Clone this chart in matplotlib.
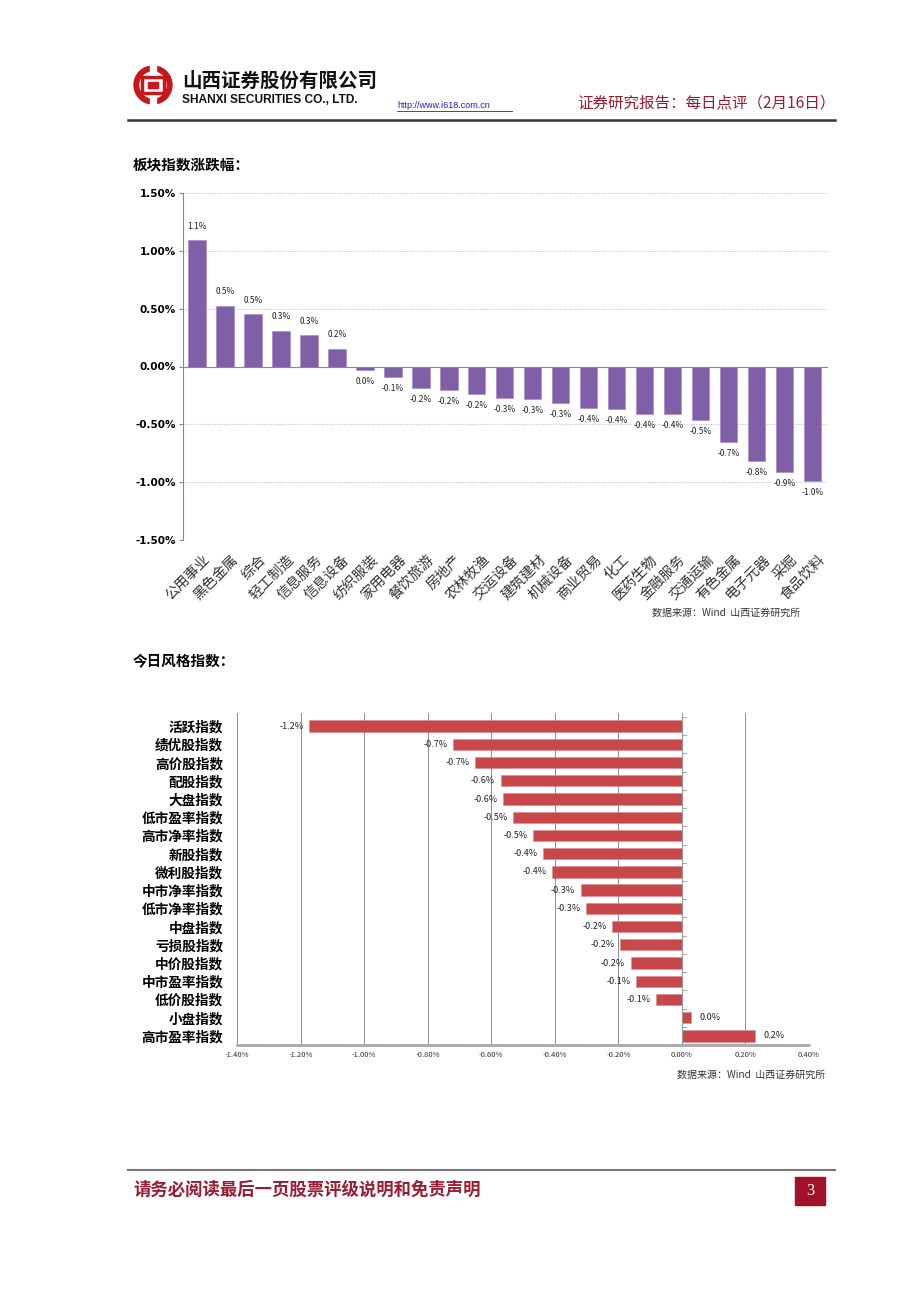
import matplotlib
matplotlib.use("Agg")
import matplotlib.pyplot as plt
import matplotlib.patches as mpatches
import numpy as np

plt.rcParams['font.family'] = ['Noto Sans CJK SC', 'DejaVu Sans']

# ---------------- data ----------------
sectors = ['公用事业', '黑色金属', '综合', '轻工制造', '信息服务', '信息设备', '纺织服装',
           '家用电器', '餐饮旅游', '房地产', '农林牧渔', '交运设备', '建筑建材', '机械设备',
           '商业贸易', '化工', '医药生物', '金融服务', '交通运输', '有色金属', '电子元器',
           '采掘', '食品饮料']
sector_chg = [1.09, 0.525, 0.45, 0.31, 0.27, 0.155, -0.03, -0.09, -0.19, -0.20, -0.235,
              -0.27, -0.28, -0.315, -0.355, -0.365, -0.41, -0.41, -0.46, -0.655, -0.82,
              -0.91, -0.99]
sector_yticks = [-1.5, -1.0, -0.5, 0.0, 0.5, 1.0, 1.5]

styles = ['活跃指数', '绩优股指数', '高价股指数', '配股指数', '大盘指数', '低市盈率指数',
          '高市净率指数', '新股指数', '微利股指数', '中市净率指数', '低市净率指数', '中盘指数',
          '亏损股指数', '中价股指数', '中市盈率指数', '低价股指数', '小盘指数', '高市盈率指数']
style_chg = [-1.173, -0.72, -0.65, -0.57, -0.563, -0.531, -0.468, -0.436, -0.409, -0.318,
             -0.302, -0.219, -0.194, -0.161, -0.144, -0.082, 0.030, 0.230]
style_xticks = [-1.4, -1.2, -1.0, -0.8, -0.6, -0.4, -0.2, 0.0, 0.2, 0.4]


def pct1(v):
    s = '%.1f%%' % v
    return '0.0%' if s == '-0.0%' else s


W, H = 920, 1302
fig = plt.figure(figsize=(W / 100, H / 100), dpi=100)

# ---------------- overlay for header/footer ----------------
ov = fig.add_axes([0, 0, 1, 1], zorder=0)
ov.set_xlim(0, W)
ov.set_ylim(H, 0)
ov.axis('off')

RED = '#9B1B30'
# logo
ov.add_patch(mpatches.Circle((153, 85), 19, color='#C8161D'))
ov.add_patch(mpatches.Circle((153, 85), 13, color='white'))
ov.add_patch(mpatches.Rectangle((142, 77), 22, 16, fill=False, ec='#C8161D', lw=2.5))
ov.add_patch(mpatches.Rectangle((148, 82), 10, 6, color='#C8161D'))
ov.add_patch(mpatches.Rectangle((150, 64), 6, 10, color='white'))
ov.add_patch(mpatches.Rectangle((150, 96), 6, 10, color='white'))

ov.text(182, 81, '山西证券股份有限公司', fontsize=14, fontweight='bold', va='center', ha='left',
        color='#111111')
ov.text(182, 100, 'SHANXI SECURITIES CO., LTD.', fontsize=8.6, fontweight='bold', va='center',
        ha='left', family=['Liberation Sans', 'DejaVu Sans'], color='#111111')
ov.text(397, 106, 'http://www.i618.com.cn', fontsize=6.5, va='center', ha='left',
        color='#1F1FCC', family=['Liberation Sans', 'DejaVu Sans'])
ov.plot([397, 512], [111, 111], color='#1F1FCC', lw=0.6)
ov.text(835, 103, '证券研究报告：每日点评（2月16日）', fontsize=11.2, va='center', ha='right',
        color=RED, fontweight='medium')
ov.plot([128, 835], [120, 120], color='#333333', lw=1.8)

ov.text(133, 164, '板块指数涨跌幅：', fontsize=10.5, fontweight='bold', va='center', ha='left')
ov.text(800, 613, '数据来源：Wind  山西证券研究所', fontsize=7.2, style='italic', va='center',
        ha='right', color='#333333')
ov.text(133, 660, '今日风格指数：', fontsize=10.5, fontweight='bold', va='center', ha='left')
ov.text(825, 1075, '数据来源：Wind  山西证券研究所', fontsize=7.2, style='italic', va='center',
        ha='right', color='#333333')

ov.plot([128, 835], [1170, 1170], color='#777777', lw=1.5)
ov.text(133, 1190, '请务必阅读最后一页股票评级说明和免责声明', fontsize=12.5, fontweight='bold',
        va='center', ha='left', color=RED)
ov.add_patch(mpatches.Rectangle((795, 1177), 30, 28, color='#A0122C'))
ov.text(810, 1191, '3', fontsize=12, color='white', va='center', ha='center',
        family=['Liberation Serif', 'DejaVu Serif'])

# ---------------- top chart ----------------
ax1 = fig.add_axes([183 / W, 1 - 540 / H, (828 - 183) / W, (540 - 193) / H], zorder=1)
ax1.patch.set_alpha(0)
x = np.arange(len(sectors))
ax1.bar(x, sector_chg, width=0.62, color='#7E5FA8', edgecolor='#9C86C0', linewidth=0.4,
        zorder=2)
ax1.set_xlim(-0.5, len(sectors) - 0.45)
ax1.set_ylim(-1.5, 1.5)
ax1.set_yticks(sector_yticks)
ax1.set_yticklabels(['%.2f%%' % v for v in sector_yticks], fontsize=7.5, fontweight='bold',
                    family=['DejaVu Sans'])
for v in sector_yticks:
    if v != 0:
        ax1.axhline(v, color='#A9C1E0', lw=0.7, ls=(0, (1, 1.5)), zorder=1)
ax1.axhline(0, color='#888888', lw=0.8, zorder=3)
for s in ['top', 'right', 'bottom']:
    ax1.spines[s].set_visible(False)
ax1.spines['left'].set_color('#888888')
ax1.spines['left'].set_linewidth(0.8)
ax1.tick_params(axis='y', length=3, color='#888888', pad=2)
ax1.set_xticks(x)
ax1.set_xticklabels([])
ax1.tick_params(axis='x', length=0)
for xi, v in zip(x, sector_chg):
    if v >= 0:
        ax1.annotate(pct1(v), (xi, v), xytext=(0, 7), textcoords='offset points',
                     ha='center', va='bottom', fontsize=6, color='#222222')
    else:
        ax1.annotate(pct1(v), (xi, v), xytext=(0, -5), textcoords='offset points',
                     ha='center', va='top', fontsize=6, color='#222222')
    ax1.annotate(sectors[xi], (xi, -1.5), xytext=(4, -9), textcoords='offset points',
                 ha='right', va='top', rotation=45, rotation_mode='anchor', fontsize=10.2,
                 color='#333333', fontweight='light')

# ---------------- bottom chart ----------------
ax2 = fig.add_axes([237 / W, 1 - 1045 / H, (809 - 237) / W, (1045 - 713) / H], zorder=1)
ax2.patch.set_alpha(0)
y = np.arange(len(styles))
ax2.barh(y, style_chg, height=0.62, color='#C8474A', edgecolor='#D98A8B', linewidth=0.4,
         zorder=2)
ax2.set_xlim(-1.4, 0.4)
ax2.set_ylim(len(styles) - 0.5, -0.72)
ax2.set_xticks(style_xticks)
ax2.set_xticklabels(['%.2f%%' % v for v in style_xticks], fontsize=5.5, color='#333333')
ax2.tick_params(axis='x', length=0, pad=4)
ax2.grid(axis='x', color='#8C8C8C', lw=0.7, zorder=0)
ax2.set_yticks(y)
ax2.set_yticklabels(styles, fontsize=9.8, fontweight='bold')
ax2.tick_params(axis='y', length=0, pad=10)
ax2.axvline(0, color='#999999', lw=0.8, zorder=3)
for s in ['top', 'right', 'left']:
    ax2.spines[s].set_visible(False)
ax2.spines['bottom'].set_color('#AAAAAA')
ax2.spines['bottom'].set_linewidth(2)
ax2.spines['bottom'].set_linestyle((0, (1, 0.6)))
for yi in np.arange(-0.5, len(styles), 1.0):
    ax2.plot([0, 0.012], [yi, yi], color='#999999', lw=0.6, zorder=3)
for yi, v in zip(y, style_chg):
    if v < 0:
        ax2.annotate(pct1(v), (v, yi), xytext=(-4, 0), textcoords='offset points',
                     ha='right', va='center', fontsize=6.5, color='#222222')
    else:
        ax2.annotate(pct1(v), (v, yi), xytext=(6, 0), textcoords='offset points',
                     ha='left', va='center', fontsize=6.5, color='#222222')

fig.savefig('out.png', dpi=100)
